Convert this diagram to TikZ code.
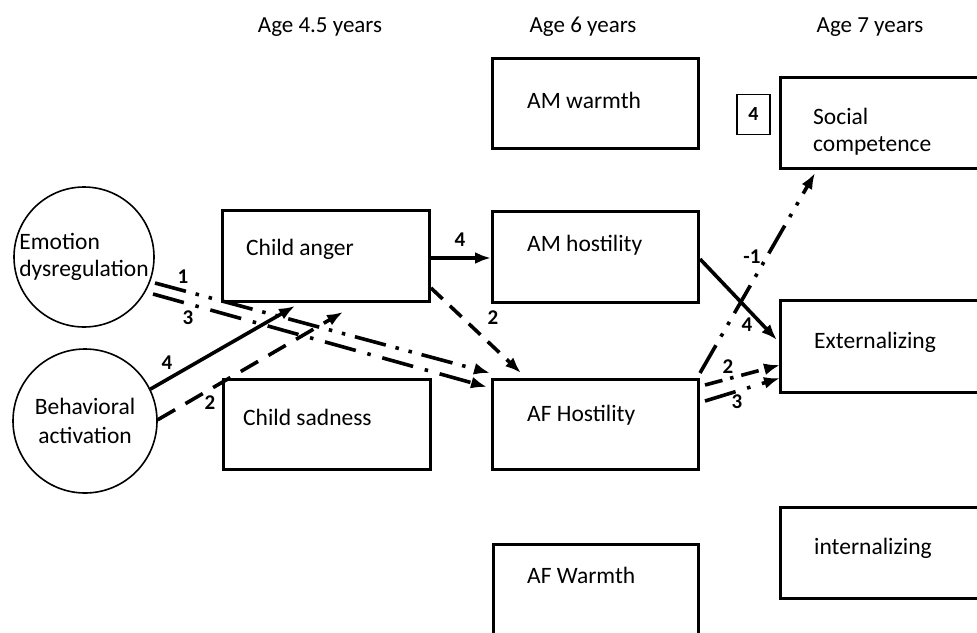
\documentclass[tikz,border=0pt]{standalone}
\usepackage{fontspec}
\setmainfont{Carlito}
\usetikzlibrary{arrows.meta,calc}
\begin{document}
\begin{tikzpicture}[x=1pt,y=-1pt,
  box/.style={draw, line width=3pt, rectangle, anchor=north west, inner sep=0pt},
  txt/.style={font=\fontsize{23.5}{27}\selectfont, anchor=base west, inner sep=0pt},
  hdr/.style={font=\fontsize{23}{26}\selectfont, anchor=base, inner sep=0pt},
  circ/.style={draw, circle, line width=1.6pt, inner sep=0pt, font=\fontsize{23.5}{27}\selectfont},
  num/.style={font=\fontsize{21}{24}\selectfont\bfseries, inner sep=0pt},
  conn/.style={line width=3.6pt, -{Latex[length=16pt,width=12pt]}},
  dsh/.style={dash pattern=on 16pt off 10pt},
  dshb/.style={dash pattern=on 20pt off 12pt},
  ddot/.style={dash pattern=on 32pt off 12pt on 3.5pt off 12pt},
  dddot/.style={dash pattern=on 32pt off 10pt on 3.5pt off 10pt on 3.5pt off 10pt},
  sdot/.style={dash pattern=on 18pt off 8pt on 3.5pt off 8pt}
]
\clip (0,0) rectangle (977,632);
% headers
\node[hdr] (h1) at (320,32) {Age 4.5 years};
\node[hdr] (h2) at (583,32) {Age 6 years};
\node[hdr] (h3) at (870,32) {Age 7 years};
% boxes
\node[box, minimum width=206pt, minimum height=90pt] (amw) at (491,57) {};
\node[box, minimum width=207pt, minimum height=91pt] (ca) at (221,209) {};
\node[box, minimum width=206pt, minimum height=91pt] (amh) at (491,210) {};
\node[box, minimum width=207pt, minimum height=90pt] (cs) at (222,378) {};
\node[box, minimum width=206pt, minimum height=90pt] (afh) at (491,378) {};
\node[box, minimum width=205pt, minimum height=120pt] (afw) at (492,543) {};
\node[box, minimum width=230pt, minimum height=91pt] (sc) at (779,76) {};
\node[box, minimum width=230pt, minimum height=92pt] (ext) at (779,299) {};
\node[box, minimum width=230pt, minimum height=91pt] (int) at (779,506) {};
\node[draw, line width=1.5pt, minimum width=33pt, minimum height=40pt, inner sep=0pt, font=\fontsize{20}{22}\selectfont\bfseries] (four) at (753.5,114.5) {4};
% box texts
\node[txt] (tamw) at (527,108) {AM warmth};
\node[txt] (tca) at (246,255) {Child anger};
\node[txt] (tamh) at (527,251) {AM hostility};
\node[txt] (tcs) at (243,425) {Child sadness};
\node[txt] (tafh) at (527,421) {AF Hostility};
\node[txt] (tafw) at (527,583) {AF Warmth};
\node[txt] (text) at (814,348) {Externalizing};
\node[txt] (tint) at (814,554) {internalizing};
\node[txt] (tsc1) at (813,124) {Social};
\node[txt] (tsc2) at (813,151) {competence};
% circles
\node[circ, minimum size=140pt, align=left] (ed) at (84,257) {Emotion\\dysregulation};
\node[circ, minimum size=144pt, align=center] (ba) at (85,421) {Behavioral\\[2pt]activation};
% connectors
\draw[conn] ([yshift=-2pt]ca.east) -- ([yshift=-2pt]ca.east -| amh.west);
\draw[conn, dsh] ($(ca.south east)+(0,-15)$) -- ($(afh.north west)+(30,-5)$);
\draw[conn, dddot] ($(ed.center)+(71,26)$) -- ($(afh.north west)+(-1,-5)$);
\draw[conn, ddot] ($(ed.center)+(69,37)$) -- ($(afh.north west)+(-4,9)$);
\draw[conn] (ba.26) -- ($(ca.south west)+(74,3)$);
\draw[conn, dshb] (ba.1) -- ($(ca.south west)+(122,9)$);
\draw[conn] ([yshift=-2pt]amh.east) -- ($(ext.north west)+(-2,41)$);
\draw[conn, dddot] ($(afh.north east)+(0,-5)$) -- ($(sc.south west)+(36,3)$);
\draw[conn, sdot] ($(afh.north east)+(5,7)$) -- ($(ext.south west)+(1,-29)$);
\draw[conn, ddot] ($(afh.north east)+(5,23)$) -- ($(ext.south west)+(1,-16)$);
% labels
\node[num] (l1) at (460,240) {4};
\node[num] (l2) at (493,318) {2};
\node[num] (l3) at (183,277) {1};
\node[num] (l4) at (188,318) {3};
\node[num] (l5) at (167,363) {4};
\node[num] (l6) at (210,403) {2};
\node[num] (l7) at (747,325) {4};
\node[num] (l8) at (752,257) {-1};
\node[num] (l9) at (728,367) {2};
\node[num] (l10) at (737,402) {3};
\end{tikzpicture}
\end{document}
